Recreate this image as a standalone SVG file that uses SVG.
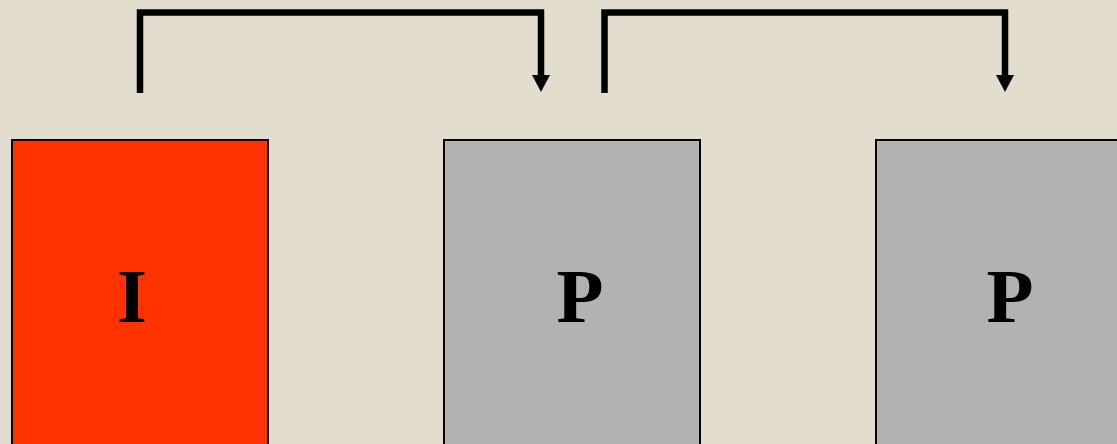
<svg xmlns="http://www.w3.org/2000/svg" width="1117" height="444" viewBox="0 0 1117 444">
<style>
.box{stroke:#000;stroke-width:2}
.lbl{font-family:"Liberation Serif",serif;font-weight:bold;font-size:77px;fill:#000;text-anchor:middle}
.conn{fill:none;stroke:#000;stroke-width:6.5;stroke-linejoin:miter;stroke-linecap:butt}
</style>
<defs>
<marker id="ah" markerUnits="userSpaceOnUse" markerWidth="18" markerHeight="18" refX="9" refY="17" orient="0" viewBox="0 0 18 18">
<path d="M0,0 L18,0 L9,17 Z" fill="#000"/>
</marker>
</defs>
<rect width="1117" height="444" fill="#e3ddce"/>
<g id="node-I">
<rect class="box" x="12" y="140" width="256" height="310" fill="#ff3300"/>
<text class="lbl" x="132" y="322">I</text>
</g>
<g id="node-P1">
<rect class="box" x="444" y="140" width="256" height="310" fill="#b2b2b2"/>
<text class="lbl" x="580" y="322">P</text>
</g>
<g id="node-P2">
<rect class="box" x="876" y="140" width="256" height="310" fill="#b2b2b2"/>
<text class="lbl" x="1010" y="322">P</text>
</g>
<g id="connectors">
<path class="conn" d="M140,93 V12.5 H541 V76"/>
<path d="M532,75 L550,75 L541,92 Z" fill="#000"/>
<path class="conn" d="M604.5,93 V12.5 H1005 V76"/>
<path d="M996,75 L1014,75 L1005,92 Z" fill="#000"/>
</g>
</svg>
